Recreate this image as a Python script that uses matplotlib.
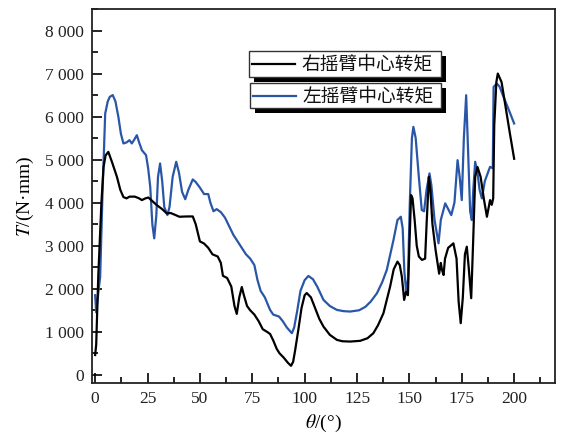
import matplotlib
matplotlib.use("Agg")
import matplotlib.pyplot as plt
from matplotlib.patches import Rectangle
from matplotlib.lines import Line2D
from matplotlib.ticker import MultipleLocator, FuncFormatter

# ---- data ----
right_theta = [0, 0.5, 1.5, 3, 4, 5, 6.3, 8, 10.4, 12, 13.5, 15, 16.4, 19, 21, 22.3, 24, 25.4, 27, 29.4,
               32, 34.2, 36, 38, 40.2, 44, 46.6, 48, 50, 52, 54, 56, 58.5, 60, 61, 63, 65, 66.5, 67.6,
               68.8, 70, 71, 72.5, 74, 76, 78, 80, 82, 83.5, 85, 86.7, 88, 90, 92, 93.5, 94.5, 95.5,
               97, 98.5, 100, 101, 103, 105, 107, 109, 112, 115.4, 118, 121.7, 126.5, 130, 132.8, 135,
               137.6, 140.8, 142.5, 144.3, 145.4, 146.4, 147.5, 148.4, 149.3, 150, 150.8, 151.5,
               152.5, 153.5, 154.5, 156, 157.5, 158.3, 159.3, 160, 161, 162.5, 164.2, 165, 165.5,
               166.3, 167, 168.5, 171, 172.5, 173.5, 174.5, 175.5, 176.5, 177.4, 178.3, 179.5, 180.5,
               181.4, 182.5, 184, 185.5, 187, 188.5, 189.3, 190, 190.5, 191.5, 192.2, 194, 196, 198, 200]
right_torque = [460, 700, 2300, 4000, 4830, 5100, 5180, 4950, 4600, 4300, 4130, 4100, 4140, 4140, 4100,
                4060, 4100, 4120, 4050, 3944, 3850, 3750, 3760, 3720, 3673, 3680, 3680, 3500, 3100,
                3050, 2950, 2800, 2750, 2600, 2300, 2250, 2050, 1600, 1415, 1800, 2040, 1850, 1600,
                1500, 1400, 1250, 1060, 1000, 950, 800, 600, 500, 400, 280, 210, 300, 580, 1050, 1550,
                1850, 1900, 1800, 1550, 1300, 1120, 930, 812, 780, 773, 790, 850, 967, 1150, 1430, 2050,
                2450, 2630, 2550, 2280, 1740, 1933, 1850, 3000, 4176, 4100, 3600, 3000, 2750, 2670,
                2700, 3600, 4600, 4300, 3500, 2900, 2350, 2600, 2450, 2320, 2700, 2950, 3055, 2700,
                1700, 1200, 1800, 2800, 2977, 2500, 1780, 3200, 4600, 4830, 4600, 4100, 3673, 4060,
                3950, 4100, 5800, 6800, 7000, 6800, 6200, 5600, 5020]

left_theta = [0, 0.5, 1.5, 2.4, 3.5, 4.8, 6, 7, 8.4, 9.7, 11.1, 12.3, 13.5, 15, 16.4, 17.5, 18.5, 19.9,
              21, 22.3, 24.3, 25.3, 26.3, 27.3, 28.2, 29.2, 30, 31, 32, 33, 34.5, 35.5, 37, 38.7, 40,
              41.5, 43, 44.5, 46.6, 48, 50, 52, 54, 55, 56.5, 58, 60, 62, 64, 66, 68, 70, 72, 74, 76,
              77.5, 79, 81, 83.5, 85, 87.8, 89.5, 91.5, 93.9, 95, 96.5, 98, 100, 101.8, 104, 106, 109,
              112, 115.4, 118.5, 121.7, 126, 129, 131.5, 134.5, 137, 139.2, 142.4, 144.3, 145.9,
              146.8, 147.6, 148.4, 149.3, 150.2, 151.2, 151.9, 153, 154.5, 155.9, 157, 158.2, 159.6,
              160.5, 162, 163.9, 165, 167.1, 168.5, 170, 171.5, 173, 174, 175, 176, 177.1, 178, 179,
              179.8, 180.5, 181.4, 182.5, 183.5, 184.6, 186, 188.5, 189.8, 190.2, 191.7, 193, 195,
              197.5, 200]
left_torque = [1850, 1450, 1900, 2280, 4200, 6070, 6350, 6460, 6500, 6350, 5990, 5600, 5376, 5400, 5452,
               5376, 5450, 5568, 5400, 5220, 5104, 4800, 4369, 3500, 3171, 3700, 4600, 4911, 4500, 3900,
               3712, 3900, 4600, 4950, 4700, 4250, 4080, 4300, 4540, 4480, 4350, 4200, 4200, 4000, 3800,
               3850, 3780, 3650, 3450, 3250, 3100, 2950, 2800, 2700, 2550, 2200, 1950, 1800, 1508, 1400,
               1353, 1250, 1100, 967, 1100, 1500, 1950, 2200, 2297, 2220, 2050, 1740, 1600, 1508, 1480,
               1470, 1500, 1580, 1700, 1895, 2150, 2436, 3132, 3596, 3673, 3400, 2400, 1972, 2200, 4000,
               5500, 5761, 5500, 4600, 3830, 3800, 4300, 4680, 4400, 3600, 3055, 3600, 3984, 3850, 3712,
               4000, 4988, 4600, 4060, 5500, 6497, 5200, 3800, 3596, 4300, 4950, 4700, 4300, 4100, 4500,
               4833, 4800, 6690, 6768, 6700, 6450, 6150, 5840]

series_labels = ["右摇臂中心转矩", "左摇臂中心转矩"]
x_ticks = [0, 25, 50, 75, 100, 125, 150, 175, 200]
y_ticks = [0, 1000, 2000, 3000, 4000, 5000, 6000, 7000, 8000]

BLUE = "#2a56a8"
SERIF = ["Liberation Serif", "DejaVu Serif"]
CJK = ["Noto Sans CJK SC", "DejaVu Sans"]

plt.rcParams["mathtext.fontset"] = "stix"

W, H = 567, 442
fig = plt.figure(figsize=(W / 100, H / 100), dpi=100)
ax = fig.add_axes([92 / W, 1 - 383 / H, (555 - 92) / W, (383 - 9) / H])

ax.plot(right_theta, right_torque, color="black", lw=1.6, zorder=3)
ax.plot(left_theta, left_torque, color=BLUE, lw=1.6, zorder=2)

ax.set_xlim(-1.5, 219.5)
ax.set_ylim(-190, 8500)
ax.set_xticks(x_ticks)
ax.set_yticks(y_ticks)
ax.xaxis.set_minor_locator(MultipleLocator(12.5))
ax.yaxis.set_minor_locator(MultipleLocator(500))
ax.yaxis.set_major_formatter(FuncFormatter(
    lambda v, p: ("{:,}".format(int(v))).replace(",", " ")))
ax.tick_params(which="major", direction="in", length=7, width=1.2, labelsize=12.5, pad=6)
ax.tick_params(which="minor", direction="in", length=4, width=1.2)
ax.tick_params(top=False, right=False)
for lab in ax.get_xticklabels() + ax.get_yticklabels():
    lab.set_family(SERIF)
    lab.set_color("#222222")
for s in ax.spines.values():
    s.set_linewidth(1.3)
    s.set_color("#222222")

ax.set_xlabel(r"$\theta$/(°)", fontsize=14, family=SERIF, labelpad=4)
ax.set_ylabel(r"$T$/(N·mm)", fontsize=14, family=SERIF, labelpad=6)


# ---- legend: two boxes with hard black shadows ----
def px_rect(x0, y0, x1, y1, **kw):
    # pixel coords with y from top
    return Rectangle((x0 / W, 1 - y1 / H), (x1 - x0) / W, (y1 - y0) / H,
                     transform=fig.transFigure, **kw)


boxes = [(249, 51, 441, 77), (250, 83, 441, 108)]
colors = ["black", BLUE]
for (x0, y0, x1, y1), lab, c in zip(boxes, series_labels, colors):
    fig.add_artist(px_rect(x0 + 5, y0 + 5, x1 + 5, y1 + 5, facecolor="black",
                           edgecolor="black", lw=0, zorder=5))
    fig.add_artist(px_rect(x0, y0, x1, y1, facecolor="white", edgecolor="#333333",
                           lw=1.0, zorder=6))
    yc = (y0 + y1) / 2
    fig.add_artist(Line2D([(x0 + 3) / W, (x0 + 46) / W], [1 - yc / H, 1 - yc / H],
                          transform=fig.transFigure, color=c, lw=1.6, zorder=7))
    fig.text((x0 + 52) / W, 1 - yc / H, lab, family=CJK, fontsize=13.5,
             va="center", ha="left", zorder=8, color="#111111")

fig.savefig("out.png", dpi=100)
